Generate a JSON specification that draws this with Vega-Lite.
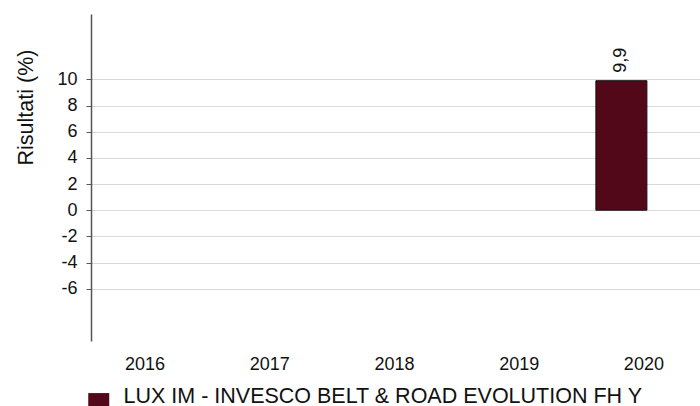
{
  "$schema": "https://vega.github.io/schema/vega-lite/v6.json",
  "autosize": "none",
  "width": 609,
  "height": 327,
  "padding": {"left": 91, "top": 14, "right": 0, "bottom": 65},
  "background": "white",
  "config": {
    "font": "Liberation Sans",
    "view": {"stroke": null},
    "locale": {"number": {"decimal": ",", "thousands": ".", "grouping": [3], "currency": ["", " €"], "minus": "-"}}
  },
  "data": {
    "values": [
      {"anno": "2016", "serie": "LUX IM - INVESCO BELT & ROAD EVOLUTION FH Y", "valore": null},
      {"anno": "2017", "serie": "LUX IM - INVESCO BELT & ROAD EVOLUTION FH Y", "valore": null},
      {"anno": "2018", "serie": "LUX IM - INVESCO BELT & ROAD EVOLUTION FH Y", "valore": null},
      {"anno": "2019", "serie": "LUX IM - INVESCO BELT & ROAD EVOLUTION FH Y", "valore": null},
      {"anno": "2020", "serie": "LUX IM - INVESCO BELT & ROAD EVOLUTION FH Y", "valore": 9.9}
    ]
  },
  "encoding": {
    "x": {
      "field": "anno", "type": "ordinal",
      "scale": {"paddingInner": 0.591, "paddingOuter": 0.2365, "align": 0.1},
      "axis": {
        "title": null, "domain": false, "ticks": false, "grid": false,
        "labelAngle": 0, "labelFontSize": 18, "labelColor": "#111", "labelPadding": 14,
        "labelOffset": 22.5, "labelFont": "Liberation Sans"
      }
    }
  },
  "layer": [
    {
      "mark": {"type": "bar", "stroke": "#111", "strokeWidth": 1},
      "encoding": {
        "y": {
          "field": "valore", "type": "quantitative",
          "scale": {"domain": [-10, 15], "nice": false, "zero": false},
          "axis": {
            "values": [-6, -4, -2, 0, 2, 4, 6, 8, 10],
            "title": "Risultati (%)", "titleFontSize": 21.5, "titleFontWeight": "normal", "titleColor": "#111",
            "titleAngle": -90, "titleX": -65, "titleY": 93, "titleAlign": "center", "titleBaseline": "middle",
            "titleFont": "Liberation Sans",
            "labelFontSize": 18, "labelColor": "#111", "labelPadding": 9, "labelFont": "Liberation Sans",
            "domainColor": "#555", "domainWidth": 1.5,
            "tickColor": "#555", "tickSize": 5, "tickWidth": 1,
            "gridColor": "#d9d9d9", "gridWidth": 1.2
          }
        },
        "color": {
          "field": "serie", "type": "nominal",
          "scale": {"range": ["#520818"]},
          "legend": {
            "title": null, "orient": "none", "legendX": -3, "legendY": 372,
            "symbolType": "M-1,-0.35H1V1.65H-1Z", "symbolSize": 441, "symbolStrokeWidth": 0,
            "labelFontSize": 21.5, "labelColor": "#111", "labelFont": "Liberation Sans", "labelOffset": 14, "labelLimit": 700
          }
        }
      }
    },
    {
      "mark": {"type": "rule", "color": "#555", "strokeWidth": 1.5},
      "encoding": {"y": {"datum": 0, "type": "quantitative"}}
    },
    {
      "mark": {"type": "text", "angle": 270, "align": "left", "baseline": "middle", "dx": 8, "fontSize": 18, "color": "#111", "font": "Liberation Sans"},
      "encoding": {
        "y": {"field": "valore", "type": "quantitative"},
        "text": {"field": "valore", "type": "quantitative", "format": ".1f"}
      }
    }
  ]
}
